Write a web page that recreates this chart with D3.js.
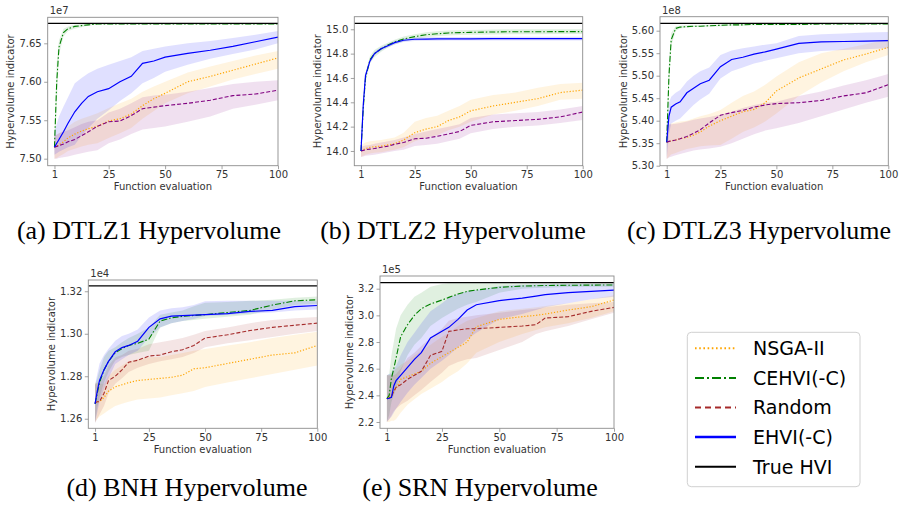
<!DOCTYPE html>
<html>
<head>
<meta charset="utf-8">
<script src="https://cdnjs.cloudflare.com/ajax/libs/d3/7.8.5/d3.min.js"></script>
<style>
  body { margin: 0; background: #fff; }
  svg text { font-family: "DejaVu Sans", sans-serif; }
</style>
</head>
<body>
<div id="viz"></div>
<script>
// ---- data (hypervolume, in units of the offset shown on each panel) ----
var evals = [1, 2, 3, 5, 7, 10, 13, 16, 20, 25, 30, 35, 40, 45, 50, 60, 70, 80, 90, 100];
var evalsSrn = [1, 2, 3, 4, 5, 7, 10, 13, 16, 20, 25, 28, 32, 36, 40, 50, 60, 66, 70, 80, 90, 100];
var xTicks = [1, 25, 50, 75, 100];
var methods = ["NSGA-II", "CEHVI(-C)", "Random", "EHVI(-C)", "True HVI"];

// (a) DTLZ1
var dtlz1True = 7.676;
var dtlz1Nsga = [7.515, 7.516, 7.518, 7.522, 7.527, 7.532, 7.536, 7.539, 7.542, 7.549, 7.552, 7.558, 7.569, 7.578, 7.585, 7.600, 7.607, 7.615, 7.623, 7.631];
var dtlz1NsgaLo = [7.500, 7.501, 7.503, 7.506, 7.510, 7.513, 7.516, 7.518, 7.520, 7.527, 7.533, 7.540, 7.552, 7.562, 7.572, 7.585, 7.594, 7.603, 7.610, 7.617];
var dtlz1NsgaHi = [7.530, 7.531, 7.533, 7.537, 7.542, 7.548, 7.552, 7.555, 7.559, 7.566, 7.572, 7.578, 7.587, 7.594, 7.600, 7.612, 7.620, 7.627, 7.634, 7.640];
var dtlz1Cehvi = [7.515, 7.600, 7.645, 7.664, 7.669, 7.672, 7.673, 7.674, 7.675, 7.675, 7.675, 7.675, 7.675, 7.675, 7.675, 7.675, 7.675, 7.675, 7.675, 7.675];
var dtlz1CehviLo = [7.503, 7.570, 7.635, 7.659, 7.666, 7.669, 7.671, 7.673, 7.674, 7.674, 7.674, 7.674, 7.674, 7.674, 7.674, 7.674, 7.674, 7.674, 7.674, 7.674];
var dtlz1CehviHi = [7.530, 7.625, 7.654, 7.669, 7.672, 7.674, 7.675, 7.676, 7.676, 7.676, 7.676, 7.676, 7.676, 7.676, 7.676, 7.676, 7.676, 7.676, 7.676, 7.676];
var dtlz1Rand = [7.515, 7.516, 7.517, 7.519, 7.522, 7.525, 7.530, 7.535, 7.542, 7.548, 7.549, 7.556, 7.565, 7.567, 7.569, 7.572, 7.576, 7.582, 7.584, 7.589];
var dtlz1RandLo = [7.500, 7.500, 7.501, 7.502, 7.503, 7.505, 7.507, 7.509, 7.511, 7.520, 7.525, 7.532, 7.538, 7.540, 7.542, 7.548, 7.555, 7.565, 7.570, 7.576];
var dtlz1RandHi = [7.530, 7.531, 7.533, 7.535, 7.537, 7.541, 7.545, 7.548, 7.550, 7.560, 7.565, 7.572, 7.580, 7.582, 7.583, 7.587, 7.592, 7.597, 7.600, 7.602];
var dtlz1Ehvi = [7.515, 7.520, 7.525, 7.535, 7.546, 7.561, 7.572, 7.581, 7.587, 7.591, 7.600, 7.607, 7.624, 7.627, 7.632, 7.637, 7.641, 7.646, 7.652, 7.658];
var dtlz1EhviLo = [7.505, 7.507, 7.509, 7.512, 7.515, 7.518, 7.530, 7.540, 7.552, 7.563, 7.575, 7.585, 7.598, 7.605, 7.613, 7.622, 7.630, 7.636, 7.642, 7.650];
var dtlz1EhviHi = [7.535, 7.545, 7.555, 7.568, 7.580, 7.598, 7.605, 7.611, 7.617, 7.622, 7.627, 7.632, 7.640, 7.643, 7.646, 7.650, 7.653, 7.657, 7.661, 7.666];

// (b) DTLZ2
var dtlz2True = 15.049;
var dtlz2Nsga = [14.00, 14.01, 14.02, 14.03, 14.035, 14.04, 14.05, 14.06, 14.09, 14.15, 14.18, 14.20, 14.25, 14.28, 14.33, 14.37, 14.40, 14.43, 14.48, 14.50];
var dtlz2NsgaLo = [13.95, 13.96, 13.97, 13.98, 13.985, 13.99, 14.00, 14.01, 14.03, 14.08, 14.11, 14.13, 14.17, 14.20, 14.24, 14.30, 14.33, 14.37, 14.42, 14.43];
var dtlz2NsgaHi = [14.05, 14.06, 14.07, 14.08, 14.085, 14.09, 14.10, 14.11, 14.15, 14.24, 14.27, 14.29, 14.33, 14.37, 14.42, 14.46, 14.48, 14.52, 14.55, 14.56];
var dtlz2Cehvi = [14.00, 14.35, 14.60, 14.75, 14.80, 14.84, 14.87, 14.895, 14.92, 14.94, 14.955, 14.963, 14.97, 14.973, 14.975, 14.978, 14.98, 14.98, 14.981, 14.981];
var dtlz2CehviLo = [13.97, 14.30, 14.56, 14.72, 14.77, 14.815, 14.85, 14.875, 14.90, 14.92, 14.935, 14.943, 14.95, 14.953, 14.955, 14.958, 14.96, 14.96, 14.961, 14.961];
var dtlz2CehviHi = [14.03, 14.40, 14.64, 14.78, 14.83, 14.865, 14.89, 14.915, 14.94, 14.96, 14.975, 14.983, 14.99, 14.993, 14.995, 14.998, 15.00, 15.00, 15.001, 15.001];
var dtlz2Rand = [14.00, 14.005, 14.01, 14.015, 14.02, 14.03, 14.04, 14.055, 14.07, 14.10, 14.105, 14.12, 14.14, 14.16, 14.21, 14.24, 14.25, 14.26, 14.28, 14.32];
var dtlz2RandLo = [13.95, 13.955, 13.96, 13.965, 13.97, 13.98, 13.99, 14.00, 14.01, 14.04, 14.05, 14.06, 14.08, 14.10, 14.145, 14.18, 14.20, 14.21, 14.23, 14.255];
var dtlz2RandHi = [14.03, 14.04, 14.045, 14.05, 14.06, 14.07, 14.08, 14.09, 14.11, 14.14, 14.16, 14.18, 14.20, 14.22, 14.27, 14.30, 14.31, 14.32, 14.34, 14.37];
var dtlz2Ehvi = [14.00, 14.38, 14.62, 14.74, 14.80, 14.84, 14.865, 14.89, 14.91, 14.918, 14.92, 14.921, 14.922, 14.922, 14.922, 14.923, 14.923, 14.923, 14.923, 14.923];
var dtlz2EhviLo = [13.985, 14.36, 14.60, 14.725, 14.785, 14.825, 14.85, 14.875, 14.895, 14.903, 14.905, 14.906, 14.907, 14.907, 14.907, 14.908, 14.908, 14.908, 14.908, 14.908];
var dtlz2EhviHi = [14.015, 14.40, 14.64, 14.755, 14.815, 14.855, 14.88, 14.905, 14.925, 14.933, 14.935, 14.936, 14.937, 14.937, 14.937, 14.938, 14.938, 14.938, 14.938, 14.938];

// (c) DTLZ3
var dtlz3True = 5.6164;
var dtlz3Nsga = [5.352, 5.354, 5.355, 5.357, 5.360, 5.363, 5.368, 5.375, 5.388, 5.400, 5.410, 5.420, 5.425, 5.440, 5.466, 5.495, 5.515, 5.535, 5.548, 5.563];
var dtlz3NsgaLo = [5.315, 5.320, 5.325, 5.328, 5.332, 5.337, 5.340, 5.343, 5.345, 5.346, 5.360, 5.375, 5.385, 5.398, 5.416, 5.455, 5.485, 5.510, 5.530, 5.546];
var dtlz3NsgaHi = [5.390, 5.392, 5.394, 5.396, 5.398, 5.400, 5.405, 5.410, 5.415, 5.424, 5.440, 5.455, 5.465, 5.480, 5.498, 5.530, 5.550, 5.560, 5.570, 5.581];
var dtlz3Cehvi = [5.352, 5.500, 5.580, 5.605, 5.608, 5.609, 5.610, 5.610, 5.611, 5.612, 5.613, 5.613, 5.614, 5.614, 5.614, 5.614, 5.615, 5.615, 5.615, 5.615];
var dtlz3CehviLo = [5.315, 5.470, 5.565, 5.600, 5.605, 5.607, 5.608, 5.608, 5.609, 5.610, 5.611, 5.611, 5.612, 5.612, 5.612, 5.612, 5.613, 5.613, 5.613, 5.613];
var dtlz3CehviHi = [5.390, 5.530, 5.595, 5.610, 5.611, 5.612, 5.612, 5.612, 5.613, 5.614, 5.615, 5.615, 5.616, 5.616, 5.616, 5.616, 5.617, 5.617, 5.617, 5.617];
var dtlz3Rand = [5.352, 5.354, 5.355, 5.357, 5.360, 5.365, 5.372, 5.380, 5.395, 5.412, 5.418, 5.423, 5.430, 5.435, 5.438, 5.440, 5.445, 5.455, 5.462, 5.480];
var dtlz3RandLo = [5.315, 5.318, 5.320, 5.323, 5.326, 5.330, 5.334, 5.336, 5.338, 5.342, 5.350, 5.360, 5.370, 5.378, 5.383, 5.395, 5.410, 5.425, 5.440, 5.453];
var dtlz3RandHi = [5.390, 5.391, 5.392, 5.393, 5.395, 5.398, 5.402, 5.405, 5.408, 5.413, 5.420, 5.428, 5.435, 5.440, 5.442, 5.455, 5.465, 5.478, 5.490, 5.504];
var dtlz3Ehvi = [5.352, 5.410, 5.430, 5.437, 5.442, 5.462, 5.472, 5.482, 5.490, 5.520, 5.536, 5.541, 5.548, 5.553, 5.559, 5.572, 5.575, 5.576, 5.577, 5.578];
var dtlz3EhviLo = [5.315, 5.370, 5.394, 5.400, 5.405, 5.420, 5.435, 5.447, 5.460, 5.494, 5.510, 5.518, 5.527, 5.533, 5.539, 5.550, 5.555, 5.557, 5.559, 5.561];
var dtlz3EhviHi = [5.390, 5.440, 5.453, 5.462, 5.468, 5.487, 5.500, 5.510, 5.518, 5.546, 5.556, 5.561, 5.565, 5.569, 5.572, 5.588, 5.592, 5.594, 5.596, 5.597];

// (d) BNH
var bnhTrue = 1.3225;
var bnhNsga = [1.2675, 1.268, 1.268, 1.270, 1.273, 1.275, 1.276, 1.277, 1.278, 1.2785, 1.279, 1.2795, 1.2805, 1.2835, 1.284, 1.286, 1.288, 1.290, 1.291, 1.2945];
var bnhNsgaLo = [1.2585, 1.260, 1.261, 1.2625, 1.264, 1.266, 1.267, 1.268, 1.269, 1.2695, 1.270, 1.271, 1.272, 1.273, 1.2749, 1.277, 1.279, 1.281, 1.283, 1.285];
var bnhNsgaHi = [1.277, 1.2765, 1.2765, 1.2765, 1.280, 1.283, 1.285, 1.287, 1.288, 1.2889, 1.289, 1.290, 1.291, 1.292, 1.2928, 1.2945, 1.296, 1.298, 1.2995, 1.3009];
var bnhCehvi = [1.267, 1.272, 1.277, 1.283, 1.287, 1.291, 1.293, 1.2945, 1.2955, 1.2975, 1.306, 1.3075, 1.3082, 1.3086, 1.309, 1.310, 1.311, 1.3135, 1.3155, 1.316];
var bnhCehviLo = [1.258, 1.265, 1.270, 1.277, 1.282, 1.2874, 1.289, 1.290, 1.291, 1.292, 1.303, 1.305, 1.306, 1.3065, 1.3071, 1.308, 1.309, 1.3115, 1.3135, 1.3141];
var bnhCehviHi = [1.276, 1.279, 1.283, 1.289, 1.292, 1.2936, 1.296, 1.298, 1.300, 1.3029, 1.309, 1.310, 1.311, 1.313, 1.3146, 1.315, 1.3155, 1.316, 1.317, 1.3175];
var bnhRand = [1.2675, 1.268, 1.268, 1.272, 1.278, 1.280, 1.283, 1.2866, 1.2875, 1.2895, 1.290, 1.2915, 1.2925, 1.2945, 1.298, 1.2995, 1.3015, 1.303, 1.304, 1.305];
var bnhRandLo = [1.258, 1.260, 1.262, 1.266, 1.272, 1.2765, 1.279, 1.282, 1.284, 1.2858, 1.287, 1.288, 1.289, 1.291, 1.2936, 1.2955, 1.297, 1.2985, 1.300, 1.3013];
var bnhRandHi = [1.276, 1.277, 1.277, 1.280, 1.285, 1.2889, 1.290, 1.292, 1.293, 1.2951, 1.296, 1.297, 1.298, 1.2995, 1.3013, 1.303, 1.305, 1.3065, 1.3073, 1.3079];
var bnhEhvi = [1.267, 1.273, 1.278, 1.283, 1.287, 1.2915, 1.2935, 1.2945, 1.2965, 1.303, 1.307, 1.3083, 1.3085, 1.3088, 1.309, 1.3095, 1.3105, 1.311, 1.3128, 1.3133];
var bnhEhviLo = [1.258, 1.263, 1.268, 1.274, 1.279, 1.2858, 1.288, 1.290, 1.292, 1.2982, 1.303, 1.305, 1.306, 1.307, 1.3083, 1.3088, 1.3095, 1.310, 1.311, 1.3114];
var bnhEhviHi = [1.276, 1.281, 1.286, 1.290, 1.293, 1.2967, 1.299, 1.300, 1.302, 1.3076, 1.311, 1.312, 1.3125, 1.3135, 1.3153, 1.3155, 1.3155, 1.3155, 1.3155, 1.3153];

// (e) SRN
var srnTrue = 3.245;
var srnNsga = [2.375, 2.385, 2.40, 2.43, 2.45, 2.52, 2.54, 2.56, 2.58, 2.64, 2.69, 2.72, 2.76, 2.80, 2.915, 2.97, 2.99, 3.00, 3.01, 3.04, 3.065, 3.115];
var srnNsgaLo = [2.20, 2.20, 2.21, 2.21, 2.22, 2.27, 2.33, 2.37, 2.41, 2.45, 2.50, 2.54, 2.58, 2.64, 2.72, 2.80, 2.86, 2.89, 2.91, 2.94, 2.98, 3.03];
var srnNsgaHi = [2.55, 2.55, 2.56, 2.58, 2.60, 2.63, 2.66, 2.70, 2.73, 2.78, 2.84, 2.87, 2.92, 2.96, 2.98, 3.03, 3.05, 3.06, 3.07, 3.09, 3.12, 3.15];
var srnCehvi = [2.375, 2.40, 2.53, 2.60, 2.68, 2.84, 2.93, 3.00, 3.05, 3.085, 3.115, 3.135, 3.16, 3.18, 3.19, 3.21, 3.22, 3.222, 3.224, 3.226, 3.227, 3.228];
var srnCehviLo = [2.20, 2.25, 2.35, 2.40, 2.45, 2.58, 2.70, 2.78, 2.83, 2.92, 2.98, 3.01, 3.05, 3.08, 3.10, 3.17, 3.20, 3.205, 3.208, 3.212, 3.214, 3.215];
var srnCehviHi = [2.55, 2.56, 2.70, 2.80, 2.90, 3.00, 3.08, 3.14, 3.17, 3.215, 3.235, 3.24, 3.24, 3.24, 3.24, 3.24, 3.24, 3.24, 3.24, 3.24, 3.24, 3.24];
var srnRand = [2.375, 2.38, 2.39, 2.43, 2.46, 2.48, 2.52, 2.55, 2.58, 2.70, 2.73, 2.88, 2.89, 2.90, 2.90, 2.91, 2.92, 2.93, 2.98, 2.99, 3.03, 3.06];
var srnRandLo = [2.20, 2.22, 2.25, 2.28, 2.30, 2.33, 2.36, 2.40, 2.44, 2.50, 2.57, 2.62, 2.65, 2.67, 2.68, 2.74, 2.80, 2.86, 2.88, 2.92, 2.97, 3.02];
var srnRandHi = [2.55, 2.55, 2.55, 2.55, 2.56, 2.60, 2.68, 2.72, 2.77, 2.83, 2.90, 2.96, 2.98, 2.99, 3.00, 3.02, 3.04, 3.05, 3.06, 3.08, 3.09, 3.10];
var srnEhvi = [2.375, 2.378, 2.385, 2.47, 2.51, 2.55, 2.61, 2.67, 2.72, 2.83, 2.88, 2.91, 2.97, 3.04, 3.08, 3.11, 3.13, 3.145, 3.155, 3.17, 3.18, 3.19];
var srnEhviLo = [2.20, 2.22, 2.24, 2.27, 2.30, 2.35, 2.42, 2.48, 2.53, 2.60, 2.66, 2.70, 2.76, 2.82, 2.87, 2.97, 3.01, 3.04, 3.06, 3.09, 3.12, 3.14];
var srnEhviHi = [2.55, 2.56, 2.57, 2.60, 2.62, 2.70, 2.80, 2.87, 2.94, 3.03, 3.09, 3.13, 3.16, 3.18, 3.19, 3.22, 3.23, 3.232, 3.234, 3.235, 3.235, 3.235];

// y tick labels per panel
var dtlz1Ticks = [7.50, 7.55, 7.60, 7.65];
var dtlz2Ticks = [14.0, 14.2, 14.4, 14.6, 14.8, 15.0];
var dtlz3Ticks = [5.30, 5.35, 5.40, 5.45, 5.50, 5.55, 5.60];
var bnhTicks = [1.26, 1.28, 1.30, 1.32];
var srnTicks = [2.2, 2.4, 2.6, 2.8, 3.0, 3.2];

// ---- styles ----
var cOrange = "#ffa500", cGreen = "#008000", cPurple = "#800080", cBrown = "#a52a2a", cBlue = "#0000ff";
var dashDot = "6,2,1.5,2", dashed = "4,2", dotted = "1.2,1.8";

function series(xs, nsga, cehvi, rand, ehvi, randColor) {
  var mk = function (m, lo, hi, color, dash, w) {
    return { pts: xs.map(function (x, i) { return { x: x, y: m[i], lo: lo[i], hi: hi[i] }; }), color: color, dash: dash, w: w };
  };
  return [
    mk(nsga[0], nsga[1], nsga[2], cOrange, dotted, 1.2),
    mk(cehvi[0], cehvi[1], cehvi[2], cGreen, dashDot, 1.1),
    mk(rand[0], rand[1], rand[2], randColor, dashed, 1.1),
    mk(ehvi[0], ehvi[1], ehvi[2], cBlue, null, 1.2)
  ];
}

var panels = [
  { left: 47.7, right: 278, top: 17.3, bottom: 165.7, ydom: [7.4909, 7.6838], ticks: dtlz1Ticks, fmt: ".2f", expo: "1e7",
    truth: dtlz1True, caption: "(a) DTLZ1 Hypervolume", capX: 149, capY: 239,
    lines: series(evals, [dtlz1Nsga, dtlz1NsgaLo, dtlz1NsgaHi], [dtlz1Cehvi, dtlz1CehviLo, dtlz1CehviHi], [dtlz1Rand, dtlz1RandLo, dtlz1RandHi], [dtlz1Ehvi, dtlz1EhviLo, dtlz1EhviHi], cPurple) },
  { left: 354.3, right: 582.7, top: 16.7, bottom: 165.7, ydom: [13.879, 15.1035], ticks: dtlz2Ticks, fmt: ".1f", expo: null,
    truth: dtlz2True, caption: "(b) DTLZ2 Hypervolume", capX: 453, capY: 239,
    lines: series(evals, [dtlz2Nsga, dtlz2NsgaLo, dtlz2NsgaHi], [dtlz2Cehvi, dtlz2CehviLo, dtlz2CehviHi], [dtlz2Rand, dtlz2RandLo, dtlz2RandHi], [dtlz2Ehvi, dtlz2EhviLo, dtlz2EhviHi], cPurple) },
  { left: 660, right: 888.3, top: 16.7, bottom: 165.7, ydom: [5.30, 5.6311], ticks: dtlz3Ticks, fmt: ".2f", expo: "1e8",
    truth: dtlz3True, caption: "(c) DTLZ3 Hypervolume", capX: 759, capY: 239,
    lines: series(evals, [dtlz3Nsga, dtlz3NsgaLo, dtlz3NsgaHi], [dtlz3Cehvi, dtlz3CehviLo, dtlz3CehviHi], [dtlz3Rand, dtlz3RandLo, dtlz3RandHi], [dtlz3Ehvi, dtlz3EhviLo, dtlz3EhviHi], cPurple) },
  { left: 88.3, right: 317.3, top: 280, bottom: 428.3, ydom: [1.2555, 1.3253], ticks: bnhTicks, fmt: ".2f", expo: "1e4",
    truth: bnhTrue, caption: "(d) BNH Hypervolume", capX: 187, capY: 496,
    lines: series(evals, [bnhNsga, bnhNsgaLo, bnhNsgaHi], [bnhCehvi, bnhCehviLo, bnhCehviHi], [bnhRand, bnhRandLo, bnhRandHi], [bnhEhvi, bnhEhviLo, bnhEhviHi], cBrown) },
  { left: 380, right: 614, top: 276, bottom: 428.3, ydom: [2.1527, 3.2953], ticks: srnTicks, fmt: ".1f", expo: "1e5",
    truth: srnTrue, caption: "(e) SRN Hypervolume", capX: 480, capY: 496,
    lines: series(evalsSrn, [srnNsga, srnNsgaLo, srnNsgaHi], [srnCehvi, srnCehviLo, srnCehviHi], [srnRand, srnRandLo, srnRandHi], [srnEhvi, srnEhviLo, srnEhviHi], cBrown) }
];

var svg = d3.select('#viz').append('svg')
  .attr('width', 902)
  .attr('height', 505);

panels.forEach(function (p, k) {
  var xScale = d3.scaleLinear().domain([-2, 100]).range([p.left, p.right]);
  var yScale = d3.scaleLinear().domain(p.ydom).range([p.bottom, p.top]);

  svg.append('clipPath').attr('id', 'clip' + k)
    .append('rect')
    .attr('x', p.left).attr('y', p.top)
    .attr('width', p.right - p.left).attr('height', p.bottom - p.top);

  var g = svg.append('g').attr('clip-path', 'url(#clip' + k + ')');

  var area = d3.area()
    .x(function (d) { return xScale(d.x); })
    .y0(function (d) { return yScale(d.lo); })
    .y1(function (d) { return yScale(d.hi); });
  var line = d3.line()
    .x(function (d) { return xScale(d.x); })
    .y(function (d) { return yScale(d.y); });

  g.selectAll('path.band').data(p.lines)
    .enter().append('path')
    .attr('class', 'band')
    .attr('d', function (s) { return area(s.pts); })
    .attr('fill', function (s) { return s.color; })
    .attr('fill-opacity', 0.12);

  g.selectAll('path.mean').data(p.lines)
    .enter().append('path')
    .attr('class', 'mean')
    .attr('d', function (s) { return line(s.pts); })
    .attr('fill', 'none')
    .attr('stroke', function (s) { return s.color; })
    .attr('stroke-width', function (s) { return s.w; })
    .attr('stroke-dasharray', function (s) { return s.dash; });

  // true hypervolume
  g.append('line')
    .attr('x1', p.left).attr('x2', p.right)
    .attr('y1', yScale(p.truth)).attr('y2', yScale(p.truth))
    .attr('stroke', '#000')
    .attr('stroke-width', 1.3);

  // frame
  svg.append('rect')
    .attr('x', p.left).attr('y', p.top)
    .attr('width', p.right - p.left).attr('height', p.bottom - p.top)
    .attr('fill', 'none')
    .attr('stroke', '#8c8c8c')
    .attr('stroke-width', 0.9);

  var xAxis = svg.append('g')
    .attr('transform', 'translate(0,' + p.bottom + ')')
    .call(d3.axisBottom(xScale).tickValues(xTicks).tickSize(3.5).tickPadding(2).tickSizeOuter(0));
  var yAxis = svg.append('g')
    .attr('transform', 'translate(' + p.left + ',0)')
    .call(d3.axisLeft(yScale).tickValues(p.ticks).tickFormat(d3.format(p.fmt)).tickSize(3.5).tickPadding(2.5).tickSizeOuter(0));

  [xAxis, yAxis].forEach(function (ax) {
    ax.select('.domain').remove();
    ax.selectAll('line').attr('stroke', '#8c8c8c').attr('stroke-width', 0.8);
    ax.selectAll('text').attr('fill', '#333').style('font-size', '10px').style('font-family', '"DejaVu Sans", sans-serif');
  });

  var yb = yAxis.node().getBBox();

  svg.append('text')
    .attr('x', (p.left + p.right) / 2)
    .attr('y', p.bottom + 24.5)
    .attr('text-anchor', 'middle')
    .attr('fill', '#333')
    .style('font-size', '10px')
    .text('Function evaluation');

  svg.append('text')
    .attr('transform', 'translate(' + (p.left + yb.x - 8.5) + ',' + ((p.top + p.bottom) / 2) + ') rotate(-90)')
    .attr('text-anchor', 'middle')
    .attr('dy', '0.35em')
    .attr('fill', '#333')
    .style('font-size', '10px')
    .text('Hypervolume indicator');

  if (p.expo) {
    svg.append('text')
      .attr('x', p.left + 2)
      .attr('y', p.top - 3)
      .attr('fill', '#333')
      .style('font-size', '10px')
      .text(p.expo);
  }

  svg.append('text')
    .attr('x', p.capX)
    .attr('y', p.capY)
    .attr('text-anchor', 'middle')
    .attr('fill', '#000')
    .style('font-family', '"Liberation Serif", serif')
    .style('font-size', '26px')
    .text(p.caption);
});

// legend
var legendStyles = [
  { color: cOrange, dash: "1.6,2.6", w: 2 },
  { color: cGreen, dash: "9,3,2,3", w: 2 },
  { color: cBrown, dash: "6,4", w: 2 },
  { color: cBlue, dash: null, w: 2.5 },
  { color: "#000", dash: null, w: 2 }
];
var legendY = d3.scalePoint().domain(methods).range([348.3, 466.7]);

svg.append('rect')
  .attr('x', 687.3).attr('y', 332.3)
  .attr('width', 172.7).attr('height', 154.4)
  .attr('rx', 4)
  .attr('fill', '#fff')
  .attr('stroke', '#d0d0d0')
  .attr('stroke-width', 1);

var entry = svg.selectAll('g.legend').data(methods)
  .enter().append('g')
  .attr('class', 'legend')
  .attr('transform', function (d) { return 'translate(0,' + legendY(d) + ')'; });

entry.append('line')
  .attr('x1', 695).attr('x2', 736)
  .attr('stroke', function (d, i) { return legendStyles[i].color; })
  .attr('stroke-width', function (d, i) { return legendStyles[i].w; })
  .attr('stroke-dasharray', function (d, i) { return legendStyles[i].dash; });

entry.append('text')
  .attr('x', 753)
  .attr('dy', '0.36em')
  .attr('fill', '#000')
  .style('font-size', '19px')
  .text(function (d) { return d; });
</script>
</body>
</html>
